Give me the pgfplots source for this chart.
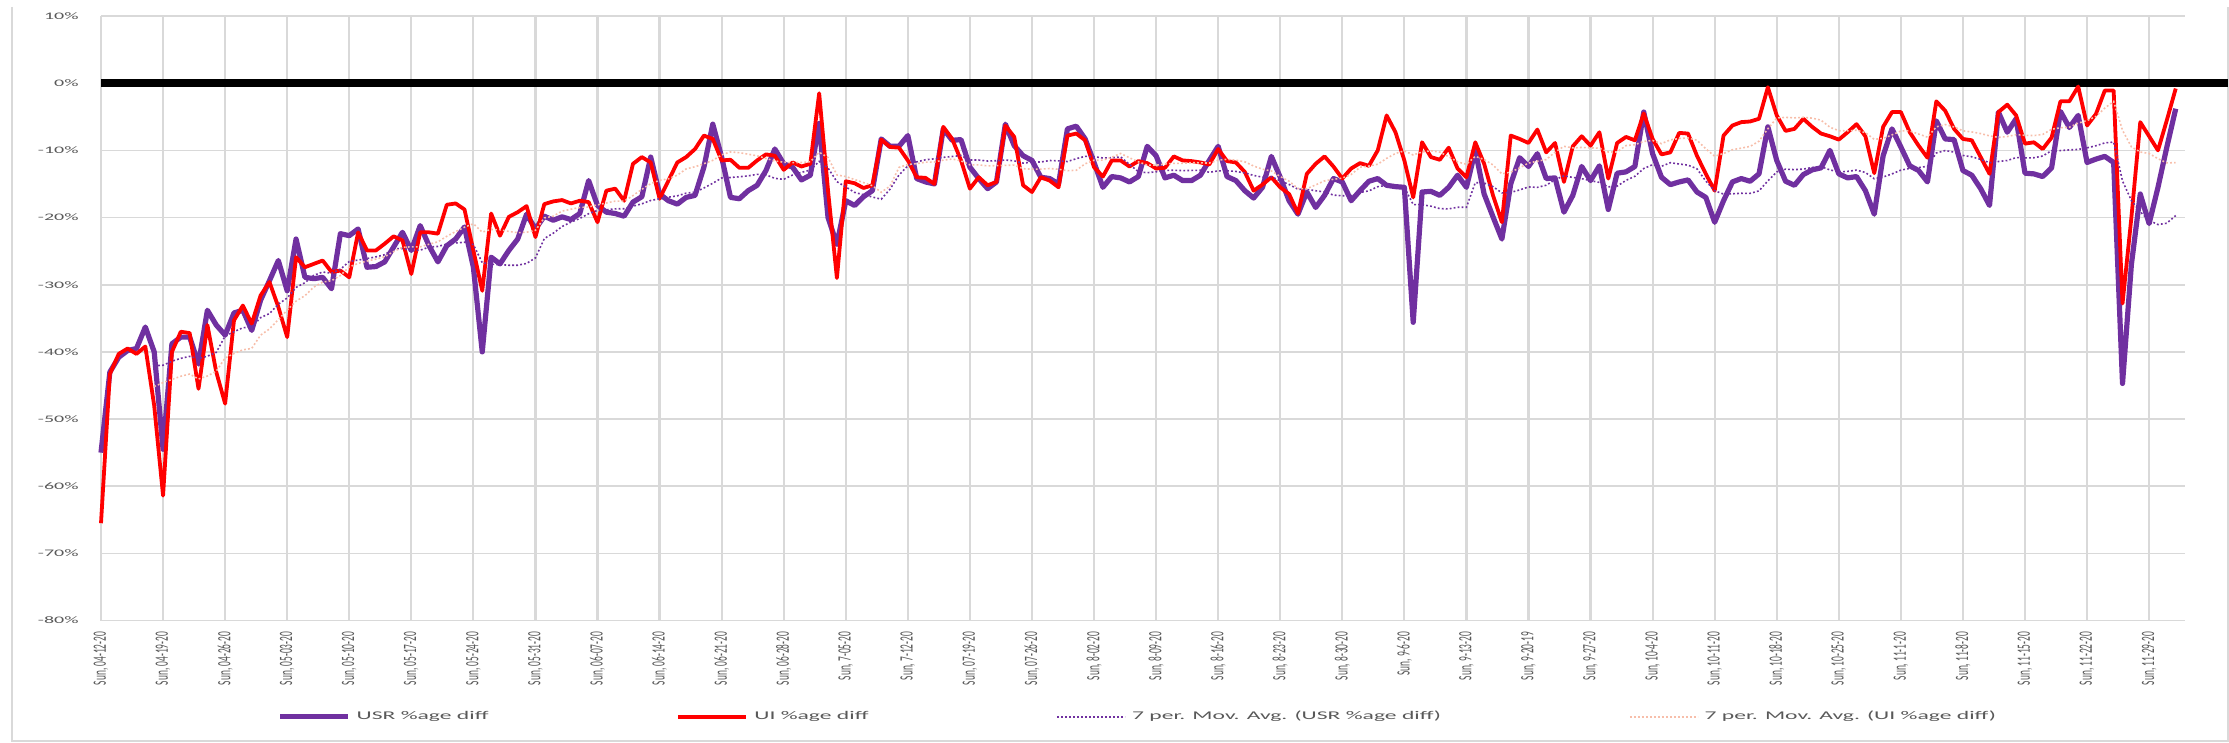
\documentclass[border=0pt]{standalone}
\usepackage{pgfplots}
\pgfplotsset{compat=1.18}
\usepackage{pgfplotstable}
\usepackage{fontspec}
\usepackage{graphicx}
\setmainfont{Carlito}

\definecolor{usr}{HTML}{7030A0}
\definecolor{ui}{HTML}{FF0000}
\definecolor{maui}{RGB}{247,190,170}
\definecolor{lab}{RGB}{89,89,89}
\definecolor{grd}{RGB}{217,217,217}

\newcommand{\xl}[1]{\scalebox{1}[2]{\fontsize{4.7}{5}\selectfont #1}}
\newcommand{\yl}[1]{\scalebox{2}[1]{\fontsize{5}{6}\selectfont #1}}
\newcommand{\lgd}[1]{\scalebox{2}[1]{\fontsize{5.9}{7}\selectfont #1}}

\pgfplotstableread{
d u r
0 -55.0 -65.5
1 -43.0 -43.3
2 -40.8 -40.3
3 -39.8 -39.5
4 -39.5 -40.3
5 -36.3 -39.2
6 -40.0 -48.0
7 -54.5 -61.4
8 -38.8 -40.0
9 -37.8 -37.0
10 -37.8 -37.2
11 -41.8 -45.5
12 -33.8 -36.0
13 -36.0 -43.0
14 -37.5 -47.7
15 -34.2 -35.3
16 -33.8 -33.1
17 -36.8 -35.8
18 -32.3 -31.6
19 -29.4 -29.6
20 -26.4 -33.3
21 -30.9 -37.8
22 -23.2 -25.9
23 -28.9 -27.4
24 -29.1 -26.9
25 -28.9 -26.4
26 -30.6 -28.1
27 -22.4 -27.9
28 -22.7 -28.9
29 -21.7 -22.2
30 -27.4 -24.9
31 -27.3 -24.9
32 -26.6 -23.9
33 -24.4 -22.8
34 -22.2 -23.4
35 -24.9 -28.4
36 -21.2 -22.2
37 -24.2 -22.2
38 -26.6 -22.4
39 -24.2 -18.1
40 -23.2 -17.9
41 -21.4 -18.8
42 -27.4 -24.9
43 -40.0 -30.9
44 -25.9 -19.4
45 -26.9 -22.7
46 -24.9 -19.9
47 -23.2 -19.2
48 -19.5 -18.3
49 -21.7 -22.9
50 -19.8 -18.0
51 -20.4 -17.6
52 -19.9 -17.4
53 -20.3 -17.9
54 -19.4 -17.5
55 -14.5 -17.7
56 -18.2 -20.7
57 -19.2 -16.0
58 -19.4 -15.7
59 -19.8 -17.5
60 -17.7 -12.0
61 -16.9 -11.0
62 -11.0 -11.8
63 -16.5 -17.2
64 -17.5 -14.5
65 -18.0 -11.8
66 -17.0 -11.0
67 -16.7 -9.8
68 -12.5 -7.8
69 -6.1 -8.3
70 -11.0 -11.5
71 -17.0 -11.4
72 -17.2 -12.6
73 -16.0 -12.6
74 -15.2 -11.5
75 -13.0 -10.6
76 -9.8 -10.8
77 -12.0 -12.9
78 -12.5 -11.8
79 -14.4 -12.4
80 -13.7 -12.0
81 -6.0 -1.5
82 -20.0 -16.0
83 -24.0 -29.0
84 -17.5 -14.6
85 -18.2 -14.9
86 -16.9 -15.6
87 -16.0 -15.2
88 -8.3 -8.4
89 -9.4 -9.5
90 -9.4 -9.6
91 -7.8 -11.5
92 -14.2 -14.0
93 -14.7 -14.1
94 -15.0 -15.0
95 -6.8 -6.5
96 -8.5 -8.3
97 -8.4 -11.5
98 -12.5 -15.7
99 -14.2 -14.0
100 -15.7 -15.2
101 -14.7 -14.7
102 -6.1 -6.3
103 -9.3 -8.0
104 -10.8 -15.2
105 -11.5 -16.2
106 -14.0 -14.0
107 -14.2 -14.5
108 -15.0 -15.5
109 -6.8 -7.8
110 -6.4 -7.5
111 -8.3 -8.5
112 -11.8 -12.5
113 -15.5 -13.9
114 -13.9 -11.5
115 -14.1 -11.5
116 -14.7 -12.4
117 -13.9 -11.6
118 -9.4 -11.9
119 -10.8 -12.7
120 -14.1 -12.6
121 -13.7 -10.9
122 -14.5 -11.5
123 -14.5 -11.6
124 -13.7 -11.8
125 -11.5 -12.1
126 -9.4 -9.8
127 -13.9 -11.6
128 -14.5 -11.8
129 -16.0 -13.2
130 -17.1 -16.0
131 -15.5 -15.1
132 -10.9 -14.0
133 -14.0 -15.5
134 -17.5 -16.5
135 -19.5 -19.4
136 -16.2 -13.5
137 -18.5 -12.0
138 -16.7 -10.9
139 -14.2 -12.4
140 -14.7 -14.2
141 -17.5 -12.7
142 -16.0 -11.9
143 -14.6 -12.3
144 -14.2 -10.0
145 -15.2 -4.8
146 -15.4 -7.3
147 -15.5 -11.5
148 -35.6 -17.0
149 -16.2 -8.8
150 -16.1 -11.0
151 -16.7 -11.4
152 -15.5 -9.6
153 -13.7 -12.7
154 -15.5 -14.0
155 -10.0 -8.8
156 -16.5 -12.0
157 -19.9 -16.7
158 -23.2 -20.7
159 -15.0 -7.8
160 -11.1 -8.3
161 -12.4 -8.9
162 -10.5 -6.9
163 -14.2 -10.3
164 -14.1 -8.9
165 -19.2 -14.7
166 -16.7 -9.4
167 -12.4 -7.9
168 -14.5 -9.3
169 -12.3 -7.3
170 -18.8 -14.2
171 -13.4 -8.9
172 -13.2 -8.0
173 -12.4 -8.5
174 -4.3 -4.5
175 -10.5 -8.3
176 -14.0 -10.6
177 -15.1 -10.3
178 -14.7 -7.4
179 -14.4 -7.5
180 -16.2 -10.8
181 -17.0 -13.5
182 -20.7 -16.0
183 -17.5 -7.8
184 -14.7 -6.3
185 -14.2 -5.8
186 -14.6 -5.7
187 -13.5 -5.3
188 -6.5 -0.6
189 -11.5 -4.8
190 -14.6 -7.1
191 -15.2 -6.8
192 -13.6 -5.3
193 -12.9 -6.5
194 -12.6 -7.5
195 -10.0 -7.9
196 -13.5 -8.4
197 -14.1 -7.3
198 -13.9 -6.1
199 -16.0 -7.9
200 -19.5 -13.4
201 -10.8 -6.5
202 -6.8 -4.3
203 -9.5 -4.3
204 -12.3 -7.3
205 -13.0 -9.3
206 -14.7 -11.1
207 -5.6 -2.7
208 -8.3 -4.1
209 -8.4 -6.8
210 -13.0 -8.3
211 -13.7 -8.5
212 -15.7 -11.0
213 -18.2 -13.5
214 -4.3 -4.3
215 -7.3 -3.2
216 -5.3 -4.8
217 -13.4 -9.0
218 -13.5 -8.8
219 -13.9 -9.8
220 -12.6 -8.1
221 -4.2 -2.7
222 -6.6 -2.7
223 -4.8 -0.5
224 -11.8 -6.3
225 -11.3 -4.6
226 -10.9 -1.1
227 -11.8 -1.1
228 -44.7 -32.8
229 -27.0 -20.0
230 -16.5 -5.8
231 -20.9 -7.9
232 -15.5 -10.0
233 -9.5 -5.5
234 -3.8 -0.8
}\datatab

\pgfplotstableread{
d mu mr
6 -42.06 -45.16
7 -41.99 -44.57
8 -41.39 -44.10
9 -40.96 -43.63
10 -40.67 -43.30
11 -41.00 -44.04
12 -40.64 -43.59
13 -40.07 -42.87
14 -37.64 -40.91
15 -36.99 -40.24
16 -36.41 -39.69
17 -36.27 -39.49
18 -34.91 -37.50
19 -34.29 -36.59
20 -32.91 -35.20
21 -31.97 -33.79
22 -30.40 -32.44
23 -29.70 -31.63
24 -28.60 -30.36
25 -28.11 -29.61
26 -28.29 -29.40
27 -27.71 -28.63
28 -26.54 -27.36
29 -26.33 -26.83
30 -26.11 -26.47
31 -25.86 -26.19
32 -25.53 -25.83
33 -24.64 -25.07
34 -24.61 -24.43
35 -24.93 -24.36
36 -24.86 -24.36
37 -24.40 -23.97
38 -24.30 -23.61
39 -23.96 -22.79
40 -23.79 -22.09
41 -23.67 -21.43
42 -24.03 -20.93
43 -26.71 -22.17
44 -26.96 -21.77
45 -27.00 -21.81
46 -27.10 -22.07
47 -27.10 -22.26
48 -26.83 -22.19
49 -26.01 -21.90
50 -23.13 -20.06
51 -22.34 -19.80
52 -21.34 -19.04
53 -20.69 -18.76
54 -20.14 -18.51
55 -19.43 -18.43
56 -18.93 -18.11
57 -18.84 -17.83
58 -18.70 -17.56
59 -18.69 -17.57
60 -18.31 -16.73
61 -17.96 -15.80
62 -17.46 -14.96
63 -17.21 -14.46
64 -16.97 -14.24
65 -16.77 -13.69
66 -16.37 -12.76
67 -16.23 -12.44
68 -15.60 -11.99
69 -14.90 -11.49
70 -14.11 -10.67
71 -14.04 -10.23
72 -13.93 -10.34
73 -13.79 -10.57
74 -13.57 -10.81
75 -13.64 -11.21
76 -14.17 -11.57
77 -14.31 -11.77
78 -13.67 -11.83
79 -13.27 -11.80
80 -12.94 -11.71
81 -11.63 -10.29
82 -12.63 -11.06
83 -14.66 -13.66
84 -15.44 -13.90
85 -16.26 -14.34
86 -16.61 -14.80
87 -16.94 -15.26
88 -17.27 -16.24
89 -15.76 -15.31
90 -13.67 -12.54
91 -12.29 -12.10
92 -11.71 -11.97
93 -11.40 -11.76
94 -11.26 -11.73
95 -11.04 -11.46
96 -10.91 -11.29
97 -10.77 -11.56
98 -11.44 -12.16
99 -11.44 -12.16
100 -11.59 -12.31
101 -11.54 -12.27
102 -11.44 -12.24
103 -11.56 -12.20
104 -11.90 -12.73
105 -11.76 -12.80
106 -11.73 -12.80
107 -11.51 -12.70
108 -11.56 -12.81
109 -11.66 -13.03
110 -11.24 -12.96
111 -10.89 -12.00
112 -10.93 -11.47
113 -11.14 -11.46
114 -11.10 -11.03
115 -10.97 -10.46
116 -12.10 -11.11
117 -13.17 -11.70
118 -13.33 -12.19
119 -13.19 -12.21
120 -12.99 -12.03
121 -12.96 -11.94
122 -13.01 -11.94
123 -12.99 -11.83
124 -12.96 -11.86
125 -13.26 -11.89
126 -13.06 -11.47
127 -13.03 -11.33
128 -13.14 -11.46
129 -13.36 -11.70
130 -13.73 -12.33
131 -13.99 -12.80
132 -13.90 -13.07
133 -14.56 -13.89
134 -15.07 -14.59
135 -15.79 -15.67
136 -15.81 -15.71
137 -16.01 -15.14
138 -16.19 -14.54
139 -16.66 -14.31
140 -16.76 -14.13
141 -16.76 -13.59
142 -16.26 -12.51
143 -16.03 -12.34
144 -15.41 -12.06
145 -15.20 -11.19
146 -15.37 -10.46
147 -15.49 -10.07
148 -18.07 -10.69
149 -18.10 -10.24
150 -18.31 -10.06
151 -18.67 -10.26
152 -18.71 -10.94
153 -18.47 -11.71
154 -18.47 -12.07
155 -14.81 -10.90
156 -14.86 -11.36
157 -15.40 -12.17
158 -16.33 -13.50
159 -16.26 -13.24
160 -15.89 -12.61
161 -15.44 -11.89
162 -15.51 -11.61
163 -15.19 -11.37
164 -14.36 -10.26
165 -13.79 -9.40
166 -14.03 -9.63
167 -14.21 -9.57
168 -14.51 -9.63
169 -14.77 -9.69
170 -15.43 -10.24
171 -15.33 -10.24
172 -14.47 -9.29
173 -13.86 -9.16
174 -12.70 -8.67
175 -12.13 -8.53
176 -12.37 -9.00
177 -11.84 -8.44
178 -12.03 -8.23
179 -12.20 -8.16
180 -12.74 -8.49
181 -14.56 -9.77
182 -16.01 -10.87
183 -16.51 -10.47
184 -16.46 -9.90
185 -16.39 -9.67
186 -16.41 -9.41
187 -16.03 -8.63
188 -14.53 -6.79
189 -13.21 -5.19
190 -12.80 -5.09
191 -12.87 -5.16
192 -12.79 -5.09
193 -12.54 -5.20
194 -12.41 -5.51
195 -12.91 -6.56
196 -13.20 -7.07
197 -13.13 -7.10
198 -12.94 -7.00
199 -13.29 -7.37
200 -14.23 -8.36
201 -13.97 -8.21
202 -13.51 -7.70
203 -12.94 -7.11
204 -12.69 -7.11
205 -12.56 -7.57
206 -12.37 -8.03
207 -10.39 -6.50
208 -10.03 -6.16
209 -10.26 -6.51
210 -10.76 -7.09
211 -10.96 -7.26
212 -11.34 -7.50
213 -11.84 -7.84
214 -11.66 -8.07
215 -11.51 -7.94
216 -11.07 -7.66
217 -11.13 -7.76
218 -11.10 -7.80
219 -10.84 -7.63
220 -10.04 -6.86
221 -10.03 -6.63
222 -9.93 -6.56
223 -9.86 -5.94
224 -9.63 -5.56
225 -9.31 -4.96
226 -8.89 -3.71
227 -8.77 -2.71
228 -14.56 -7.01
229 -17.47 -9.49
230 -19.14 -10.24
231 -20.44 -10.47
232 -21.04 -11.24
233 -20.84 -11.87
234 -19.70 -11.83
}\matab

\begin{document}
\begin{tikzpicture}
\useasboundingbox (0,0) rectangle (1114.5pt,371.5pt);
\draw[grd, line width=0.75pt] (6pt,368pt) -- (6pt,1pt) -- (1114pt,1pt) -- (1114pt,368pt);
\begin{axis}[
  at={(50.5pt,61.2pt)}, anchor=south west,
  scale only axis, width=1041.8pt, height=302.3pt,
  xmin=0, xmax=235, ymin=-80, ymax=10,
  clip=false,
  no markers,
  axis line style={draw=none},
  major tick length=0pt,
  xtick={0,7,...,231},
  ytick={-80,-70,...,10},
  xticklabels={{\xl{Sun, 04-12-20}},{\xl{Sun, 04-19-20}},{\xl{Sun, 04-26-20}},{\xl{Sun, 05-03-20}},{\xl{Sun, 05-10-20}},{\xl{Sun, 05-17-20}},{\xl{Sun, 05-24-20}},{\xl{Sun, 05-31-20}},{\xl{Sun, 06-07-20}},{\xl{Sun, 06-14-20}},{\xl{Sun, 06-21-20}},{\xl{Sun, 06-28-20}},{\xl{Sun, 7-05-20}},{\xl{Sun, 7-12-20}},{\xl{Sun, 07-19-20}},{\xl{Sun, 07-26-20}},{\xl{Sun, 8-02-20}},{\xl{Sun, 8-09-20}},{\xl{Sun, 8-16-20}},{\xl{Sun, 8-23-20}},{\xl{Sun, 8-30-20}},{\xl{Sun, 9-6-20}},{\xl{Sun, 9-13-20}},{\xl{Sun, 9-20-19}},{\xl{Sun, 9-27-20}},{\xl{Sun, 10-4-20}},{\xl{Sun, 10-11-20}},{\xl{Sun, 10-18-20}},{\xl{Sun, 10-25-20}},{\xl{Sun, 11-1-20}},{\xl{Sun, 11-8-20}},{\xl{Sun, 11-15-20}},{\xl{Sun, 11-22-20}},{\xl{Sun, 11-29-20}}},
  yticklabels={{\yl{-80\%}},{\yl{-70\%}},{\yl{-60\%}},{\yl{-50\%}},{\yl{-40\%}},{\yl{-30\%}},{\yl{-20\%}},{\yl{-10\%}},{\yl{0\%}},{\yl{10\%}}},
  xticklabel style={rotate=90, anchor=east, inner sep=0pt, text=lab},
  yticklabel style={anchor=east, inner sep=0pt, text=lab},
  xticklabel shift=5.5pt,
  yticklabel shift=11pt,
  xmajorgrids, ymajorgrids,
  x grid style={grd, line width=1.1pt},
  y grid style={grd, line width=0.8pt},
  legend columns=4,
  legend style={at={(0.0845,-0.159)}, anchor=west, draw=none, fill=none, inner sep=0pt,
    nodes={inner sep=0pt, text=lab},
    /tikz/every odd column/.append style={column sep=3pt},
    /tikz/every even column/.append style={column sep=94pt}},
  legend image code/.code={\draw[#1] (0pt,0pt) -- (34pt,0pt);},
]
\addplot[black, line width=3.8pt, forget plot] coordinates {(0,0) (239.9,0)};
\addplot[usr, line width=2.6pt, line join=round] table[x=d, y=u] {\datatab};
\addlegendentry{\lgd{USR \%age diff}}
\addplot[ui, line width=1.9pt, line join=round] table[x=d, y=r] {\datatab};
\addlegendentry{\lgd{UI \%age diff}}
\addplot[usr, line width=0.8pt, dash pattern=on 0.9pt off 1.1pt] table[x=d, y=mu] {\matab};
\addlegendentry{\lgd{7 per. Mov. Avg. (USR \%age diff)}}
\addplot[maui, line width=0.8pt, dash pattern=on 0.9pt off 1.1pt] table[x=d, y=mr] {\matab};
\addlegendentry{\lgd{7 per. Mov. Avg. (UI \%age diff)}}
\end{axis}
\end{tikzpicture}
\end{document}
